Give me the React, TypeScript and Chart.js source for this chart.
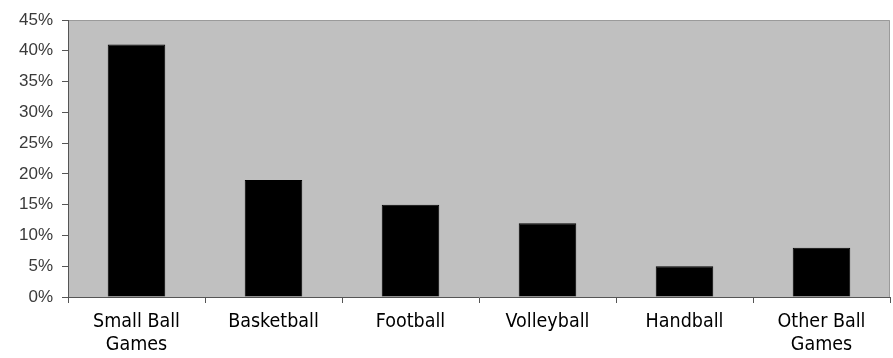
import React, { useEffect, useRef } from "react";
import { Chart, registerables } from "chart.js";

Chart.register(...registerables);

const categories: (string | string[])[] = [
  ["Small Ball", "Games"],
  "Basketball",
  "Football",
  "Volleyball",
  "Handball",
  ["Other Ball", "Games"],
];
const shares = [41, 19, 15, 12, 5, 8];
const yTicks = [0, 5, 10, 15, 20, 25, 30, 35, 40, 45];

const plotBg = {
  id: "plotBg",
  beforeDraw(chart: any) {
    const { ctx, chartArea } = chart;
    if (!chartArea) return;
    ctx.save();
    ctx.fillStyle = "#c0c0c0";
    ctx.fillRect(chartArea.left, chartArea.top, chartArea.right - chartArea.left, chartArea.bottom - chartArea.top);
    ctx.strokeStyle = "#9a9a9a";
    ctx.lineWidth = 1;
    ctx.beginPath();
    ctx.moveTo(chartArea.left, chartArea.top + 0.5);
    ctx.lineTo(chartArea.right - 0.5, chartArea.top + 0.5);
    ctx.lineTo(chartArea.right - 0.5, chartArea.bottom);
    ctx.stroke();
    ctx.restore();
  },
};

export default function App() {
  const ref = useRef<HTMLCanvasElement>(null);
  useEffect(() => {
    document.body.style.margin = "0";
    if (!ref.current) return;
    const chart = new Chart(ref.current, {
      type: "bar",
      data: {
        labels: categories,
        datasets: [
          {
            data: shares,
            backgroundColor: "#000000",
            borderColor: "#000000",
            borderWidth: 1,
            barPercentage: 0.42,
            categoryPercentage: 1,
          },
        ],
      },
      options: {
        animation: false,
        responsive: false,
        maintainAspectRatio: false,
        layout: { padding: { left: 0, top: 20, right: 3, bottom: 0 } },
        plugins: { legend: { display: false }, tooltip: { enabled: false } },
        scales: {
          x: {
            grid: { display: true, offset: true, drawOnChartArea: false, tickLength: 6, color: "#555" },
            border: { display: true, color: "#555", width: 1 },
            ticks: {
              color: "#000",
              padding: 7,
              maxRotation: 0,
              autoSkip: false,
              font: { family: "'Liberation Sans Narrow', 'Arial Narrow', 'DejaVu Sans Condensed', sans-serif", size: 19.5, lineHeight: 1.18 },
            },
            afterFit(scale: any) {
              scale.height = 61;
            },
          },
          y: {
            min: 0,
            max: 45,
            afterBuildTicks(scale: any) {
              scale.ticks = yTicks.map((v) => ({ value: v }));
            },
            grid: { display: true, drawOnChartArea: false, tickLength: 6, color: "#555" },
            border: { display: true, color: "#555", width: 1 },
            ticks: {
              color: "#3a3a3a",
              padding: 9,
              font: { family: "'Liberation Sans', Arial, sans-serif", size: 17 },
              callback: (v: any) => v + "%",
            },
            afterFit(scale: any) {
              scale.width = 68;
            },
          },
        },
      },
      plugins: [plotBg],
    });
    return () => chart.destroy();
  }, []);
  return (
    <div style={{ width: 893, height: 358 }}>
      <canvas ref={ref} width={893} height={358} style={{ width: 893, height: 358, display: "block" }} />
    </div>
  );
}
